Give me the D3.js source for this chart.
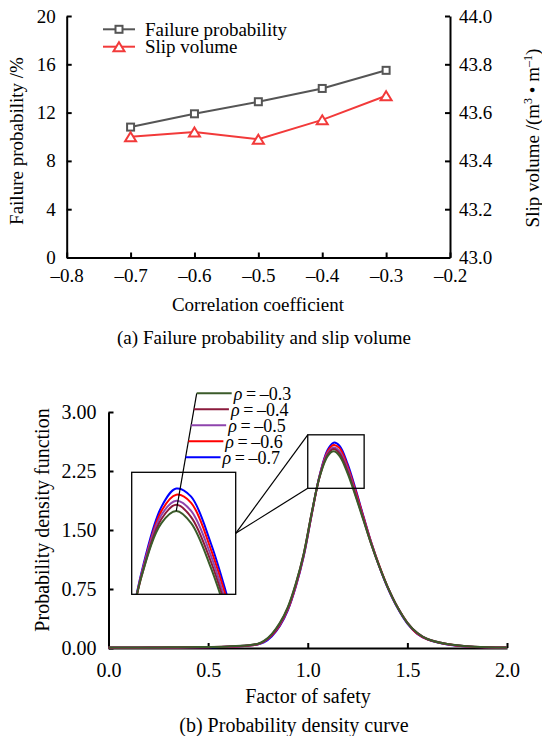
<!DOCTYPE html>
<html>
<head>
<meta charset="utf-8">
<script src="https://cdn.jsdelivr.net/npm/d3@7"></script>
<style>
  body { margin: 0; background: #fff; }
  svg { display: block; font-family: "Liberation Serif", "Times New Roman", serif; }
  .axis path, .axis line { stroke: #000; stroke-width: 2; }
  .axis text { fill: #000; font-family: "Liberation Serif", "Times New Roman", serif; }
</style>
</head>
<body>
<svg id="fig" width="542" height="736"></svg>
<script>
// ---------- (a) failure probability and slip volume ----------
const corrCoef = [-0.7, -0.6, -0.5, -0.4, -0.3];
const failureProb = [10.8, 11.9, 12.9, 14.0, 15.5];          // %
const slipVolume = [43.50, 43.52, 43.49, 43.57, 43.67];      // m^3/m
const corrTicks = [-0.8, -0.7, -0.6, -0.5, -0.4, -0.3, -0.2];
const probTicks = [0, 4, 8, 12, 16, 20];
const slipTicks = [43.0, 43.2, 43.4, 43.6, 43.8, 44.0];

// ---------- (b) probability density of the factor of safety ----------
const fos = [0, 0.1, 0.2, 0.3, 0.4, 0.5, 0.6, 0.7, 0.75, 0.78, 0.82, 0.86, 0.90, 0.94, 0.98,
             1.02, 1.06, 1.10, 1.13, 1.16, 1.20, 1.24, 1.28, 1.32, 1.36, 1.40, 1.45, 1.50,
             1.55, 1.60, 1.70, 1.80, 1.90, 2.0];
const pdfRhoM07 = [0.004, 0.004, 0.005, 0.006, 0.008, 0.010, 0.015, 0.028, 0.045, 0.07, 0.15, 0.28, 0.48, 0.78, 1.17,
                   1.70, 2.20, 2.52, 2.61, 2.57, 2.34, 2.02, 1.67, 1.33, 1.03, 0.77, 0.51, 0.31,
                   0.18, 0.11, 0.045, 0.018, 0.008, 0.004];
const pdfRhoM06 = [0.004, 0.004, 0.005, 0.006, 0.008, 0.011, 0.016, 0.030, 0.048, 0.08, 0.16, 0.29, 0.49, 0.79, 1.18,
                   1.70, 2.19, 2.50, 2.58, 2.54, 2.31, 2.00, 1.66, 1.33, 1.04, 0.78, 0.52, 0.32,
                   0.18, 0.11, 0.047, 0.019, 0.009, 0.005];
const pdfRhoM05 = [0.005, 0.005, 0.005, 0.007, 0.009, 0.012, 0.017, 0.032, 0.050, 0.08, 0.17, 0.30, 0.50, 0.80, 1.19,
                   1.71, 2.19, 2.48, 2.55, 2.50, 2.28, 1.97, 1.64, 1.32, 1.03, 0.78, 0.52, 0.32,
                   0.19, 0.115, 0.05, 0.02, 0.01, 0.005];
const pdfRhoM04 = [0.005, 0.005, 0.006, 0.007, 0.009, 0.012, 0.018, 0.033, 0.052, 0.085, 0.17, 0.31, 0.51, 0.81, 1.20,
                   1.72, 2.18, 2.46, 2.53, 2.47, 2.25, 1.95, 1.63, 1.31, 1.03, 0.78, 0.52, 0.32,
                   0.19, 0.115, 0.05, 0.021, 0.01, 0.006];
const pdfRhoM03 = [0.005, 0.005, 0.006, 0.008, 0.010, 0.013, 0.020, 0.035, 0.055, 0.09, 0.18, 0.32, 0.52, 0.82, 1.20,
                   1.72, 2.18, 2.44, 2.50, 2.44, 2.22, 1.93, 1.62, 1.31, 1.03, 0.78, 0.52, 0.32,
                   0.19, 0.115, 0.05, 0.022, 0.01, 0.006];
const rhoValues = ["–0.3", "–0.4", "–0.5", "–0.6", "–0.7"];
const fosTicks = [0, 0.5, 1.0, 1.5, 2.0];
const pdfTicks = [0, 0.75, 1.5, 2.25, 3.0];
// window of the main plot that the inset magnifies (factor of safety, density)
const zoomFos = [1.0, 1.283];
const zoomPdf = [2.03, 2.71];
const insetFos = [1.04, 1.25];
const insetPdf = [2.09, 2.69];

const svg = d3.select("#fig");
const serif = '"Liberation Serif", "Times New Roman", serif';

// ================= panel (a) =================
{
  const fs = 19;
  const x = d3.scaleLinear().domain([-0.8, -0.2]).range([66.7, 450]);
  const yL = d3.scaleLinear().domain([0, 20]).range([257.5, 16]);
  const yR = d3.scaleLinear().domain([43, 44]).range([257.5, 16]);
  const g = svg.append("g");

  const fmtDash = v => (v < 0 ? "–" : "") + d3.format(".1f")(Math.abs(v));

  const ax = g.append("g").attr("class", "axis").attr("transform", `translate(0,${yL(0)})`)
    .call(d3.axisBottom(x).tickValues(corrTicks).tickFormat(fmtDash).tickSize(-5).tickSizeOuter(0).tickPadding(11));
  ax.selectAll("text").style("font-size", fs + "px");

  const al = g.append("g").attr("class", "axis").attr("transform", `translate(${x(-0.8)},0)`)
    .call(d3.axisLeft(yL).tickValues(probTicks).tickFormat(d3.format("d")).tickSize(-5).tickSizeOuter(0).tickPadding(11));
  al.selectAll("text").style("font-size", fs + "px");

  const ar = g.append("g").attr("class", "axis").attr("transform", `translate(${x(-0.2)},0)`)
    .call(d3.axisRight(yR).tickValues(slipTicks).tickFormat(d3.format(".1f")).tickSize(-5).tickSizeOuter(0).tickPadding(9));
  ar.selectAll("text").style("font-size", fs + "px");

  const grey = "#555555", red = "#f23a3a";

  const probLine = d3.line().x((d, i) => x(corrCoef[i])).y(d => yL(d));
  const slipLine = d3.line().x((d, i) => x(corrCoef[i])).y(d => yR(d));

  g.append("path").datum(failureProb).attr("d", probLine)
    .attr("fill", "none").attr("stroke", grey).attr("stroke-width", 2);
  g.append("path").datum(slipVolume).attr("d", slipLine)
    .attr("fill", "none").attr("stroke", red).attr("stroke-width", 2);

  const sq = 7;
  g.selectAll(".sq").data(failureProb).join("rect")
    .attr("x", (d, i) => x(corrCoef[i]) - sq / 2).attr("y", d => yL(d) - sq / 2)
    .attr("width", sq).attr("height", sq)
    .attr("fill", "#fff").attr("stroke", grey).attr("stroke-width", 2);

  const tri = "M0,-4.5L5.5,4.5L-5.5,4.5Z";
  g.selectAll(".tri").data(slipVolume).join("path")
    .attr("d", tri)
    .attr("transform", (d, i) => `translate(${x(corrCoef[i])},${yR(d)})`)
    .attr("fill", "#fff").attr("stroke", red).attr("stroke-width", 2);

  // legend
  const leg = [
    { label: "Failure probability", color: grey, mark: "sq", y: 29.3 },
    { label: "Slip volume", color: red, mark: "tri", y: 46.7 }
  ];
  leg.forEach(L => {
    g.append("line").attr("x1", 103).attr("x2", 135).attr("y1", L.y).attr("y2", L.y)
      .attr("stroke", L.color).attr("stroke-width", 2);
    if (L.mark === "sq") {
      g.append("rect").attr("x", 119 - sq / 2).attr("y", L.y - sq / 2).attr("width", sq).attr("height", sq)
        .attr("fill", "#fff").attr("stroke", L.color).attr("stroke-width", 2);
    } else {
      g.append("path").attr("d", tri).attr("transform", `translate(119,${L.y})`)
        .attr("fill", "#fff").attr("stroke", L.color).attr("stroke-width", 2);
    }
    g.append("text").attr("x", 145).attr("y", L.y + 6.5).attr("font-size", fs).attr("font-family", serif)
      .text(L.label);
  });

  // axis titles
  g.append("text").attr("x", 258).attr("y", 311).attr("text-anchor", "middle")
    .attr("font-size", fs).attr("font-family", serif).text("Correlation coefficient");
  g.append("text").attr("transform", "translate(23,141) rotate(-90)").attr("text-anchor", "middle")
    .attr("font-size", fs).attr("font-family", serif).text("Failure probability /%");
  const rt = g.append("text").attr("transform", "translate(539,138) rotate(-90)").attr("text-anchor", "middle")
    .attr("font-size", fs).attr("font-family", serif);
  rt.append("tspan").text("Slip volume /(m");
  rt.append("tspan").attr("dy", -7).attr("font-size", 12).text("3");
  rt.append("tspan").attr("dy", 7).text(" • m");
  rt.append("tspan").attr("dy", -7).attr("font-size", 12).text("–1");
  rt.append("tspan").attr("dy", 7).text(")");

  g.append("text").attr("x", 264).attr("y", 343.5).attr("text-anchor", "middle")
    .attr("font-size", fs).attr("font-family", serif).text("(a) Failure probability and slip volume");
}

// ================= panel (b) =================
{
  const fs = 20;
  const x = d3.scaleLinear().domain([0, 2]).range([108.5, 507]);
  const y = d3.scaleLinear().domain([0, 3]).range([648, 412]);
  const g = svg.append("g");

  const series = [
    { rho: rhoValues[4], values: pdfRhoM07, color: "#0000ff" },
    { rho: rhoValues[3], values: pdfRhoM06, color: "#ff0000" },
    { rho: rhoValues[2], values: pdfRhoM05, color: "#8e44ad" },
    { rho: rhoValues[1], values: pdfRhoM04, color: "#8b1a3c" },
    { rho: rhoValues[0], values: pdfRhoM03, color: "#3b5b2a" }
  ];

  const ax = g.append("g").attr("class", "axis").attr("transform", `translate(0,${y(0)})`)
    .call(d3.axisBottom(x).tickValues(fosTicks).tickFormat(d3.format(".1f")).tickSize(-5).tickSizeOuter(0).tickPadding(15));
  ax.selectAll("text").style("font-size", fs + "px");
  const ay = g.append("g").attr("class", "axis").attr("transform", `translate(${x(0)},0)`)
    .call(d3.axisLeft(y).tickValues(pdfTicks).tickFormat(d3.format(".2f")).tickSize(-5).tickSizeOuter(0).tickPadding(12));
  ay.selectAll("text").style("font-size", fs + "px");

  const line = d3.line().curve(d3.curveCatmullRom.alpha(0.5))
    .x((d, i) => x(fos[i])).y(d => y(d));
  series.forEach(s => {
    g.append("path").datum(s.values).attr("d", line)
      .attr("fill", "none").attr("stroke", s.color).attr("stroke-width", 2);
  });

  // magnified window in the main plot
  const zx0 = x(zoomFos[0]), zx1 = x(zoomFos[1]), zy0 = y(zoomPdf[1]), zy1 = y(zoomPdf[0]);
  g.append("rect").attr("x", zx0).attr("y", zy0).attr("width", zx1 - zx0).attr("height", zy1 - zy0)
    .attr("fill", "none").attr("stroke", "#000").attr("stroke-width", 1.3);

  // inset
  const ib = { x0: 131.7, x1: 235.7, y0: 472.3, y1: 594.3 };
  const ix = d3.scaleLinear().domain(insetFos).range([ib.x0, ib.x1]);
  const iy = d3.scaleLinear().domain(insetPdf).range([ib.y1, ib.y0]);
  svg.append("defs").append("clipPath").attr("id", "insetClip")
    .append("rect").attr("x", ib.x0).attr("y", ib.y0).attr("width", ib.x1 - ib.x0).attr("height", ib.y1 - ib.y0);
  const ig = g.append("g").attr("clip-path", "url(#insetClip)");
  const iline = d3.line().curve(d3.curveCatmullRom.alpha(0.5))
    .x((d, i) => ix(fos[i])).y(d => iy(d));
  series.forEach(s => {
    ig.append("path").datum(s.values).attr("d", iline)
      .attr("fill", "none").attr("stroke", s.color).attr("stroke-width", 2);
  });
  g.append("rect").attr("x", ib.x0).attr("y", ib.y0).attr("width", ib.x1 - ib.x0).attr("height", ib.y1 - ib.y0)
    .attr("fill", "none").attr("stroke", "#000").attr("stroke-width", 1.3);

  // connectors from the window to the inset
  const midY = (ib.y0 + ib.y1) / 2;
  [zy0, zy1].forEach(yy => {
    g.append("line").attr("x1", zx0).attr("y1", yy).attr("x2", ib.x1).attr("y2", midY)
      .attr("stroke", "#000").attr("stroke-width", 1.2);
  });

  // legend hanging on a leader line from the lowest peak in the inset
  const peakIdx = pdfRhoM03.indexOf(d3.max(pdfRhoM03));
  const px = ix(fos[peakIdx]), py = iy(pdfRhoM03[peakIdx]);
  const topX = 196.7, topY = 393.3, rowH = 16;
  g.append("line").attr("x1", px).attr("y1", py).attr("x2", topX).attr("y2", topY)
    .attr("stroke", "#000").attr("stroke-width", 1.2);
  const legendOrder = series.slice().reverse(); // -0.3 first
  legendOrder.forEach((s, i) => {
    const ly = topY + i * rowH;
    const lx = topX + (px - topX) * (ly - topY) / (py - topY);
    g.append("line").attr("x1", lx).attr("x2", lx + 35).attr("y1", ly).attr("y2", ly)
      .attr("stroke", s.color).attr("stroke-width", 2);
    const t = g.append("text").attr("x", lx + 37).attr("y", ly + 6.5).attr("font-size", 18).attr("font-family", serif);
    t.append("tspan").attr("font-style", "italic").text("ρ");
    t.append("tspan").text("\u2009=\u2009" + s.rho);
  });

  // titles
  g.append("text").attr("x", 308).attr("y", 703).attr("text-anchor", "middle")
    .attr("font-size", fs).attr("font-family", serif).text("Factor of safety");
  g.append("text").attr("transform", "translate(49,520) rotate(-90)").attr("text-anchor", "middle")
    .attr("font-size", fs).attr("font-family", serif).text("Probability density function");
  g.append("text").attr("x", 294).attr("y", 732).attr("text-anchor", "middle")
    .attr("font-size", fs).attr("font-family", serif).text("(b) Probability density curve");
}
</script>
</body>
</html>
